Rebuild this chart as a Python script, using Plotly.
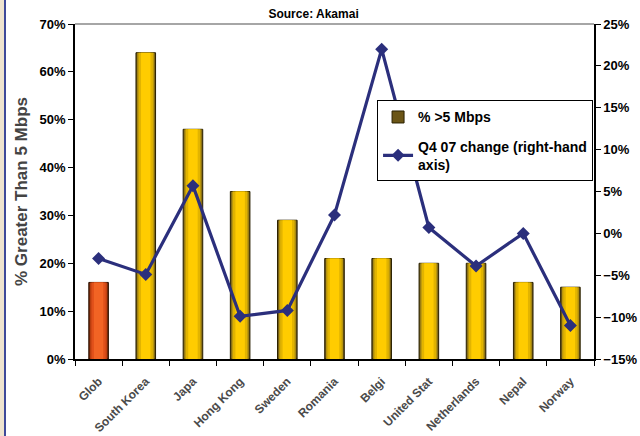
import plotly.graph_objects as go

categories = ["Glob", "South Korea", "Japa", "Hong Kong", "Sweden", "Romania",
              "Belgi", "United Stat", "Netherlands", "Nepal", "Norway"]
pct_over_5mbps = [16, 64, 48, 35, 29, 21, 21, 20, 20, 16, 15]
q4_07_change = [-3.0, -4.9, 5.7, -9.9, -9.2, 2.2, 22.0, 0.7, -3.9, 0.0, -11.0]

bar_name = "% >5 Mbps"
line_name = "Q4 07 change (right-hand<br>axis)"

FONT = "Liberation Sans, Arial, sans-serif"

gold_layers = [(0.415, "#6B5516"), (0.36, "#B8960E"), (0.30, "#E2B400"), (0.20, "#FFCC00")]
orange_layers = [(0.415, "#7A2A08"), (0.36, "#C04010"), (0.30, "#E0501A"), (0.20, "#F26424")]

fig = go.Figure()

# gold bars (all categories except the first)
for i, (w, c) in enumerate(gold_layers):
    fig.add_trace(go.Bar(
        x=categories[1:], y=pct_over_5mbps[1:], width=w,
        marker=dict(color=c, line=dict(color="#2A2000", width=1 if i == 0 else 0)),
        name=bar_name, showlegend=(i == 0), legendgroup="bars",
    ))
# highlighted first bar (orange)
for i, (w, c) in enumerate(orange_layers):
    fig.add_trace(go.Bar(
        x=categories[:1], y=pct_over_5mbps[:1], width=w,
        marker=dict(color=c, line=dict(color="#2A1000", width=1 if i == 0 else 0)),
        name=bar_name, showlegend=False, legendgroup="bars",
    ))

fig.add_trace(go.Scatter(
    x=categories, y=q4_07_change, yaxis="y2", mode="lines+markers",
    line=dict(color="#2B2F7C", width=3.2),
    marker=dict(symbol="diamond", size=10, color="#2B2F7C"),
    name=line_name, legendgroup="line",
))

fig.update_layout(
    width=640, height=436,
    margin=dict(l=75, r=46, t=24, b=77, autoexpand=False),
    paper_bgcolor="white", plot_bgcolor="white",
    barmode="overlay",
    font=dict(family=FONT, size=12, color="black"),
    showlegend=True,
    legend=dict(
        x=0.582, y=0.772, xanchor="left", yanchor="top",
        bgcolor="white", bordercolor="black", borderwidth=1,
        font=dict(family=FONT, size=14, color="black", weight="bold"),
        tracegroupgap=8, itemwidth=30,
    ),
    xaxis=dict(
        type="category", categoryorder="array", categoryarray=categories,
        showline=True, linecolor="black", linewidth=1.5,
        ticks="outside", ticklen=5, tickcolor="black", tickson="boundaries",
        tickangle=-45, ticklabelstandoff=9, automargin=False,
        tickfont=dict(family=FONT, size=12, color="#4a4a4a", weight="bold"),
        showgrid=False, zeroline=False,
        range=[-0.5, len(categories) - 0.5],
    ),
    yaxis=dict(
        range=[0, 70], dtick=10, ticksuffix="%", automargin=False,
        showline=True, linecolor="black", linewidth=1.5,
        ticks="outside", ticklen=5, tickcolor="black",
        tickfont=dict(family=FONT, size=13, color="black", weight="bold"),
        showgrid=False, zeroline=False,
        title=dict(text="% Greater Than 5 Mbps", standoff=8,
                   font=dict(family=FONT, size=17, color="#444", weight="bold")),
    ),
    yaxis2=dict(
        range=[-15, 25], dtick=5, ticksuffix="%", automargin=False,
        overlaying="y", side="right",
        showline=True, linecolor="black", linewidth=1.5,
        ticks="outside", ticklen=5, tickcolor="black",
        tickfont=dict(family=FONT, size=13, color="black", weight="bold"),
        showgrid=False, zeroline=False,
    ),
    title=dict(text="Source: Akamai", x=0.49, xanchor="center", y=0.978, yanchor="top",
               font=dict(family=FONT, size=12, color="black", weight="bold")),
    shapes=[
        # top border line of plot area
        dict(type="line", xref="paper", yref="paper", x0=0, x1=1, y0=1, y1=1,
             line=dict(color="#888", width=1.5)),
        # left page decoration: beige strip and blue rule
        dict(type="rect", xref="paper", yref="paper", x0=-75/519, x1=-71/519,
             y0=-77/335, y1=1 + 24/335, fillcolor="#EFE4CF", line=dict(width=0), layer="below"),
        dict(type="line", xref="paper", yref="paper", x0=-70/519, x1=-70/519,
             y0=-77/335, y1=1 + 24/335, line=dict(color="#3F4A9A", width=2)),
    ],
)

fig.write_html("out.html")
